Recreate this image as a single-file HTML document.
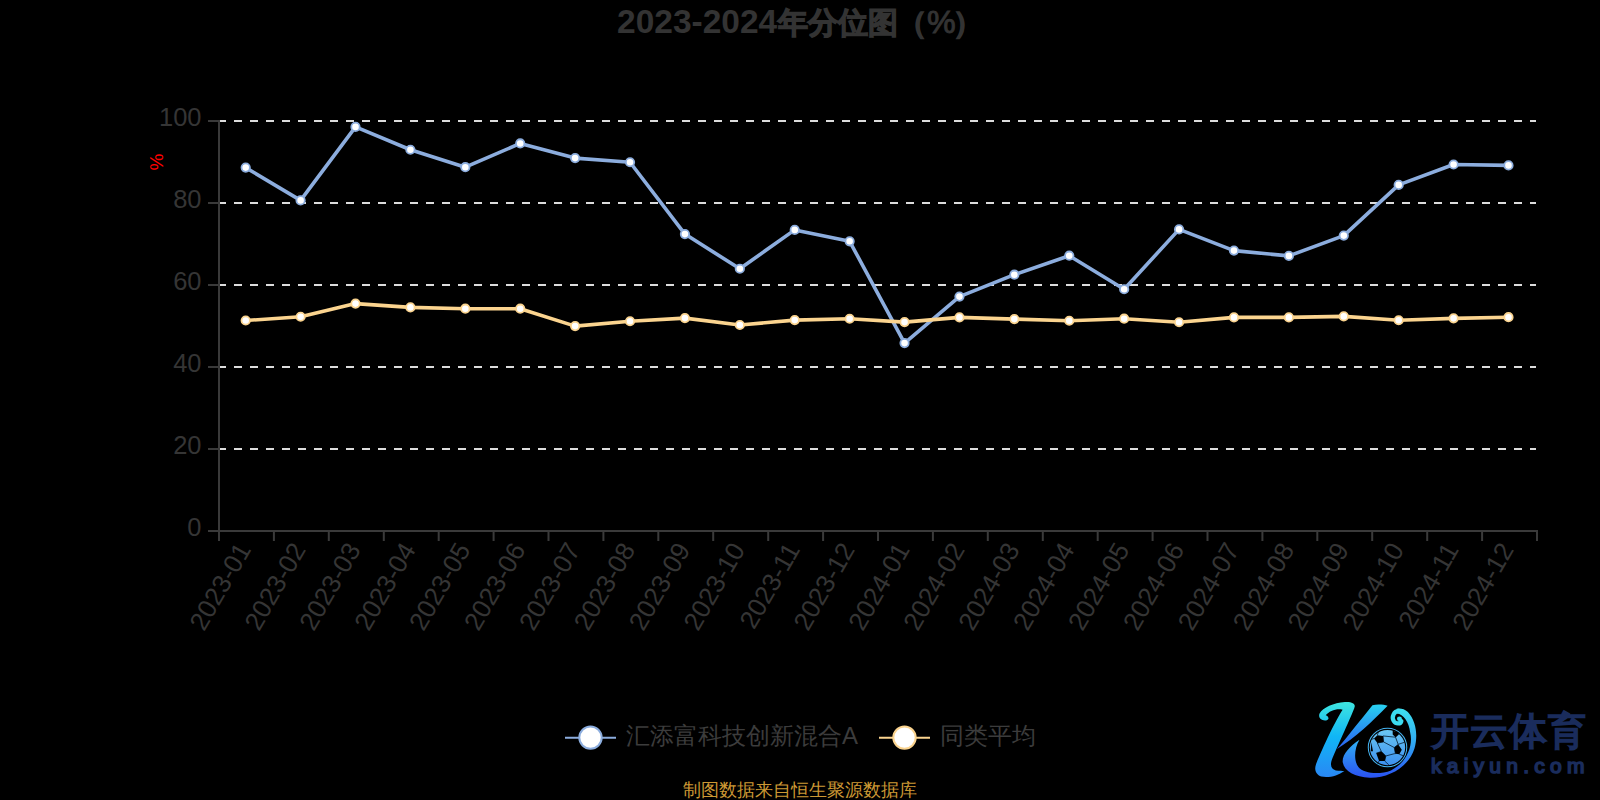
<!DOCTYPE html>
<html><head><meta charset="utf-8"><style>
html,body{margin:0;padding:0;background:#000;width:1600px;height:800px;overflow:hidden;position:relative}
svg text{font-family:"Liberation Sans",sans-serif}
.yl{font-size:25.5px;fill:#353535}
.xl{font-size:26px;fill:#353535}
.yn{font-size:19px;fill:#f00}
.lg{font-size:24px;fill:#3c3c3c}
.src{font-size:18px;fill:#cc9834}
.ky{font-size:38px;fill:#1a2c5c;stroke:#1a2c5c;stroke-width:1.9px;letter-spacing:1px}
.kyu{font-size:21px;fill:#1a2c5c;stroke:#1a2c5c;stroke-width:1.6px;letter-spacing:5.25px}
.title{font-size:33.5px;font-weight:bold;fill:#333}
.tcjk{font-size:30px;stroke:#333;stroke-width:1.2px}
.tpct{font-size:31px;font-weight:normal;stroke:#333;stroke-width:0.9px}
</style></head><body>
<svg width="1600" height="800" style="position:absolute;left:0;top:0">
<line x1="219" y1="449.0" x2="1536" y2="449.0" stroke="#dcdcdc" stroke-width="2" stroke-dasharray="8 8" stroke-dashoffset="1"/><line x1="219" y1="367.0" x2="1536" y2="367.0" stroke="#dcdcdc" stroke-width="2" stroke-dasharray="8 8" stroke-dashoffset="1"/><line x1="219" y1="285.0" x2="1536" y2="285.0" stroke="#dcdcdc" stroke-width="2" stroke-dasharray="8 8" stroke-dashoffset="1"/><line x1="219" y1="203.0" x2="1536" y2="203.0" stroke="#dcdcdc" stroke-width="2" stroke-dasharray="8 8" stroke-dashoffset="1"/><line x1="219" y1="121.0" x2="1536" y2="121.0" stroke="#dcdcdc" stroke-width="2" stroke-dasharray="8 8" stroke-dashoffset="1"/>
<line x1="219" y1="120" x2="219" y2="532" stroke="#3a3a3a" stroke-width="2"/>
<line x1="208" y1="531" x2="1538" y2="531" stroke="#3a3a3a" stroke-width="2"/>
<line x1="208" y1="531.0" x2="219" y2="531.0" stroke="#3a3a3a" stroke-width="2"/><text x="201.5" y="535.5" text-anchor="end" class="yl">0</text><line x1="208" y1="449.0" x2="219" y2="449.0" stroke="#3a3a3a" stroke-width="2"/><text x="201.5" y="453.5" text-anchor="end" class="yl">20</text><line x1="208" y1="367.0" x2="219" y2="367.0" stroke="#3a3a3a" stroke-width="2"/><text x="201.5" y="371.5" text-anchor="end" class="yl">40</text><line x1="208" y1="285.0" x2="219" y2="285.0" stroke="#3a3a3a" stroke-width="2"/><text x="201.5" y="289.5" text-anchor="end" class="yl">60</text><line x1="208" y1="203.0" x2="219" y2="203.0" stroke="#3a3a3a" stroke-width="2"/><text x="201.5" y="207.5" text-anchor="end" class="yl">80</text><line x1="208" y1="121.0" x2="219" y2="121.0" stroke="#3a3a3a" stroke-width="2"/><text x="201.5" y="125.5" text-anchor="end" class="yl">100</text><line x1="219.0" y1="531" x2="219.0" y2="541" stroke="#3a3a3a" stroke-width="2"/><line x1="273.9" y1="531" x2="273.9" y2="541" stroke="#3a3a3a" stroke-width="2"/><line x1="328.8" y1="531" x2="328.8" y2="541" stroke="#3a3a3a" stroke-width="2"/><line x1="383.8" y1="531" x2="383.8" y2="541" stroke="#3a3a3a" stroke-width="2"/><line x1="438.7" y1="531" x2="438.7" y2="541" stroke="#3a3a3a" stroke-width="2"/><line x1="493.6" y1="531" x2="493.6" y2="541" stroke="#3a3a3a" stroke-width="2"/><line x1="548.5" y1="531" x2="548.5" y2="541" stroke="#3a3a3a" stroke-width="2"/><line x1="603.4" y1="531" x2="603.4" y2="541" stroke="#3a3a3a" stroke-width="2"/><line x1="658.3" y1="531" x2="658.3" y2="541" stroke="#3a3a3a" stroke-width="2"/><line x1="713.2" y1="531" x2="713.2" y2="541" stroke="#3a3a3a" stroke-width="2"/><line x1="768.2" y1="531" x2="768.2" y2="541" stroke="#3a3a3a" stroke-width="2"/><line x1="823.1" y1="531" x2="823.1" y2="541" stroke="#3a3a3a" stroke-width="2"/><line x1="878.0" y1="531" x2="878.0" y2="541" stroke="#3a3a3a" stroke-width="2"/><line x1="932.9" y1="531" x2="932.9" y2="541" stroke="#3a3a3a" stroke-width="2"/><line x1="987.8" y1="531" x2="987.8" y2="541" stroke="#3a3a3a" stroke-width="2"/><line x1="1042.8" y1="531" x2="1042.8" y2="541" stroke="#3a3a3a" stroke-width="2"/><line x1="1097.7" y1="531" x2="1097.7" y2="541" stroke="#3a3a3a" stroke-width="2"/><line x1="1152.6" y1="531" x2="1152.6" y2="541" stroke="#3a3a3a" stroke-width="2"/><line x1="1207.5" y1="531" x2="1207.5" y2="541" stroke="#3a3a3a" stroke-width="2"/><line x1="1262.4" y1="531" x2="1262.4" y2="541" stroke="#3a3a3a" stroke-width="2"/><line x1="1317.3" y1="531" x2="1317.3" y2="541" stroke="#3a3a3a" stroke-width="2"/><line x1="1372.2" y1="531" x2="1372.2" y2="541" stroke="#3a3a3a" stroke-width="2"/><line x1="1427.2" y1="531" x2="1427.2" y2="541" stroke="#3a3a3a" stroke-width="2"/><line x1="1482.1" y1="531" x2="1482.1" y2="541" stroke="#3a3a3a" stroke-width="2"/><line x1="1537.0" y1="531" x2="1537.0" y2="541" stroke="#3a3a3a" stroke-width="2"/><text transform="translate(251.7,549.5) rotate(-60)" text-anchor="end" class="xl">2023-01</text><text transform="translate(306.6,549.5) rotate(-60)" text-anchor="end" class="xl">2023-02</text><text transform="translate(361.5,549.5) rotate(-60)" text-anchor="end" class="xl">2023-03</text><text transform="translate(416.4,549.5) rotate(-60)" text-anchor="end" class="xl">2023-04</text><text transform="translate(471.3,549.5) rotate(-60)" text-anchor="end" class="xl">2023-05</text><text transform="translate(526.2,549.5) rotate(-60)" text-anchor="end" class="xl">2023-06</text><text transform="translate(581.1,549.5) rotate(-60)" text-anchor="end" class="xl">2023-07</text><text transform="translate(636.0,549.5) rotate(-60)" text-anchor="end" class="xl">2023-08</text><text transform="translate(690.9,549.5) rotate(-60)" text-anchor="end" class="xl">2023-09</text><text transform="translate(745.8,549.5) rotate(-60)" text-anchor="end" class="xl">2023-10</text><text transform="translate(800.7,549.5) rotate(-60)" text-anchor="end" class="xl">2023-11</text><text transform="translate(855.6,549.5) rotate(-60)" text-anchor="end" class="xl">2023-12</text><text transform="translate(910.5,549.5) rotate(-60)" text-anchor="end" class="xl">2024-01</text><text transform="translate(965.5,549.5) rotate(-60)" text-anchor="end" class="xl">2024-02</text><text transform="translate(1020.4,549.5) rotate(-60)" text-anchor="end" class="xl">2024-03</text><text transform="translate(1075.3,549.5) rotate(-60)" text-anchor="end" class="xl">2024-04</text><text transform="translate(1130.2,549.5) rotate(-60)" text-anchor="end" class="xl">2024-05</text><text transform="translate(1185.1,549.5) rotate(-60)" text-anchor="end" class="xl">2024-06</text><text transform="translate(1240.0,549.5) rotate(-60)" text-anchor="end" class="xl">2024-07</text><text transform="translate(1294.9,549.5) rotate(-60)" text-anchor="end" class="xl">2024-08</text><text transform="translate(1349.8,549.5) rotate(-60)" text-anchor="end" class="xl">2024-09</text><text transform="translate(1404.7,549.5) rotate(-60)" text-anchor="end" class="xl">2024-10</text><text transform="translate(1459.6,549.5) rotate(-60)" text-anchor="end" class="xl">2024-11</text><text transform="translate(1514.5,549.5) rotate(-60)" text-anchor="end" class="xl">2024-12</text>
<text transform="translate(163,162) rotate(-90)" text-anchor="middle" class="yn">%</text>
<polyline points="245.70,167.60 300.60,200.40 355.51,126.90 410.41,149.75 465.32,167.20 520.22,143.45 575.12,158.10 630.03,162.25 684.93,234.10 739.84,268.75 794.74,229.90 849.64,241.30 904.55,343.10 959.45,296.60 1014.36,274.70 1069.26,255.70 1124.16,289.25 1179.07,229.40 1233.97,250.60 1288.88,255.90 1343.78,235.60 1398.68,184.90 1453.59,164.50 1508.49,165.40" fill="none" stroke="#8cadde" stroke-width="3.6" stroke-linejoin="round"/>
<circle cx="245.70" cy="167.60" r="4.2" fill="#fff" stroke="#8cadde" stroke-width="1.8"/><circle cx="300.60" cy="200.40" r="4.2" fill="#fff" stroke="#8cadde" stroke-width="1.8"/><circle cx="355.51" cy="126.90" r="4.2" fill="#fff" stroke="#8cadde" stroke-width="1.8"/><circle cx="410.41" cy="149.75" r="4.2" fill="#fff" stroke="#8cadde" stroke-width="1.8"/><circle cx="465.32" cy="167.20" r="4.2" fill="#fff" stroke="#8cadde" stroke-width="1.8"/><circle cx="520.22" cy="143.45" r="4.2" fill="#fff" stroke="#8cadde" stroke-width="1.8"/><circle cx="575.12" cy="158.10" r="4.2" fill="#fff" stroke="#8cadde" stroke-width="1.8"/><circle cx="630.03" cy="162.25" r="4.2" fill="#fff" stroke="#8cadde" stroke-width="1.8"/><circle cx="684.93" cy="234.10" r="4.2" fill="#fff" stroke="#8cadde" stroke-width="1.8"/><circle cx="739.84" cy="268.75" r="4.2" fill="#fff" stroke="#8cadde" stroke-width="1.8"/><circle cx="794.74" cy="229.90" r="4.2" fill="#fff" stroke="#8cadde" stroke-width="1.8"/><circle cx="849.64" cy="241.30" r="4.2" fill="#fff" stroke="#8cadde" stroke-width="1.8"/><circle cx="904.55" cy="343.10" r="4.2" fill="#fff" stroke="#8cadde" stroke-width="1.8"/><circle cx="959.45" cy="296.60" r="4.2" fill="#fff" stroke="#8cadde" stroke-width="1.8"/><circle cx="1014.36" cy="274.70" r="4.2" fill="#fff" stroke="#8cadde" stroke-width="1.8"/><circle cx="1069.26" cy="255.70" r="4.2" fill="#fff" stroke="#8cadde" stroke-width="1.8"/><circle cx="1124.16" cy="289.25" r="4.2" fill="#fff" stroke="#8cadde" stroke-width="1.8"/><circle cx="1179.07" cy="229.40" r="4.2" fill="#fff" stroke="#8cadde" stroke-width="1.8"/><circle cx="1233.97" cy="250.60" r="4.2" fill="#fff" stroke="#8cadde" stroke-width="1.8"/><circle cx="1288.88" cy="255.90" r="4.2" fill="#fff" stroke="#8cadde" stroke-width="1.8"/><circle cx="1343.78" cy="235.60" r="4.2" fill="#fff" stroke="#8cadde" stroke-width="1.8"/><circle cx="1398.68" cy="184.90" r="4.2" fill="#fff" stroke="#8cadde" stroke-width="1.8"/><circle cx="1453.59" cy="164.50" r="4.2" fill="#fff" stroke="#8cadde" stroke-width="1.8"/><circle cx="1508.49" cy="165.40" r="4.2" fill="#fff" stroke="#8cadde" stroke-width="1.8"/>
<polyline points="245.70,320.50 300.60,316.75 355.51,303.60 410.41,307.40 465.32,308.70 520.22,308.70 575.12,326.10 630.03,321.25 684.93,318.10 739.84,325.00 794.74,320.10 849.64,318.75 904.55,322.10 959.45,317.40 1014.36,319.10 1069.26,320.75 1124.16,318.70 1179.07,322.25 1233.97,317.40 1288.88,317.40 1343.78,316.40 1398.68,320.25 1453.59,318.35 1508.49,317.20" fill="none" stroke="#fbd48f" stroke-width="3.6" stroke-linejoin="round"/>
<circle cx="245.70" cy="320.50" r="4.2" fill="#fff" stroke="#fbd48f" stroke-width="1.8"/><circle cx="300.60" cy="316.75" r="4.2" fill="#fff" stroke="#fbd48f" stroke-width="1.8"/><circle cx="355.51" cy="303.60" r="4.2" fill="#fff" stroke="#fbd48f" stroke-width="1.8"/><circle cx="410.41" cy="307.40" r="4.2" fill="#fff" stroke="#fbd48f" stroke-width="1.8"/><circle cx="465.32" cy="308.70" r="4.2" fill="#fff" stroke="#fbd48f" stroke-width="1.8"/><circle cx="520.22" cy="308.70" r="4.2" fill="#fff" stroke="#fbd48f" stroke-width="1.8"/><circle cx="575.12" cy="326.10" r="4.2" fill="#fff" stroke="#fbd48f" stroke-width="1.8"/><circle cx="630.03" cy="321.25" r="4.2" fill="#fff" stroke="#fbd48f" stroke-width="1.8"/><circle cx="684.93" cy="318.10" r="4.2" fill="#fff" stroke="#fbd48f" stroke-width="1.8"/><circle cx="739.84" cy="325.00" r="4.2" fill="#fff" stroke="#fbd48f" stroke-width="1.8"/><circle cx="794.74" cy="320.10" r="4.2" fill="#fff" stroke="#fbd48f" stroke-width="1.8"/><circle cx="849.64" cy="318.75" r="4.2" fill="#fff" stroke="#fbd48f" stroke-width="1.8"/><circle cx="904.55" cy="322.10" r="4.2" fill="#fff" stroke="#fbd48f" stroke-width="1.8"/><circle cx="959.45" cy="317.40" r="4.2" fill="#fff" stroke="#fbd48f" stroke-width="1.8"/><circle cx="1014.36" cy="319.10" r="4.2" fill="#fff" stroke="#fbd48f" stroke-width="1.8"/><circle cx="1069.26" cy="320.75" r="4.2" fill="#fff" stroke="#fbd48f" stroke-width="1.8"/><circle cx="1124.16" cy="318.70" r="4.2" fill="#fff" stroke="#fbd48f" stroke-width="1.8"/><circle cx="1179.07" cy="322.25" r="4.2" fill="#fff" stroke="#fbd48f" stroke-width="1.8"/><circle cx="1233.97" cy="317.40" r="4.2" fill="#fff" stroke="#fbd48f" stroke-width="1.8"/><circle cx="1288.88" cy="317.40" r="4.2" fill="#fff" stroke="#fbd48f" stroke-width="1.8"/><circle cx="1343.78" cy="316.40" r="4.2" fill="#fff" stroke="#fbd48f" stroke-width="1.8"/><circle cx="1398.68" cy="320.25" r="4.2" fill="#fff" stroke="#fbd48f" stroke-width="1.8"/><circle cx="1453.59" cy="318.35" r="4.2" fill="#fff" stroke="#fbd48f" stroke-width="1.8"/><circle cx="1508.49" cy="317.20" r="4.2" fill="#fff" stroke="#fbd48f" stroke-width="1.8"/>
<g transform="translate(1310,695) scale(0.1125)">
<defs>
<linearGradient id="lg1" x1="0" y1="60" x2="0" y2="740" gradientUnits="userSpaceOnUse"><stop offset="0" stop-color="#3fe6e0"/><stop offset="0.45" stop-color="#10b6f6"/><stop offset="1" stop-color="#2a86f4"/></linearGradient>
<linearGradient id="lg3" x1="0" y1="90" x2="0" y2="480" gradientUnits="userSpaceOnUse"><stop offset="0" stop-color="#28d0f0"/><stop offset="1" stop-color="#2a5ef2"/></linearGradient>
<linearGradient id="lg4" x1="0" y1="120" x2="0" y2="740" gradientUnits="userSpaceOnUse"><stop offset="0" stop-color="#3ee0f0"/><stop offset="0.5" stop-color="#30a8f2"/><stop offset="1" stop-color="#2a50f2"/></linearGradient>
<linearGradient id="lg2" x1="0" y1="300" x2="0" y2="640" gradientUnits="userSpaceOnUse"><stop offset="0" stop-color="#6cc8f2"/><stop offset="1" stop-color="#3a8ef0"/></linearGradient>
</defs>
<path fill="url(#lg1)" d="M150,225 C100,235 70,200 85,165 C115,110 210,70 310,62 C370,58 400,75 398,100 C395,130 300,330 200,560 C175,620 185,660 230,670 C260,675 290,672 305,675 C250,715 170,740 100,725 C50,710 35,660 55,610 C120,450 230,220 290,130 C240,115 170,140 140,180 C165,190 175,215 150,225 Z"/>
<path fill="url(#lg3)" d="M555,90 C600,80 660,85 690,95 C560,230 400,380 240,480 C340,360 450,220 555,90 Z"/>
<path fill="url(#lg4)" d="M440,397 C360,450 290,520 290,590 C300,680 400,730 530,735 C700,740 880,640 930,470 C960,360 945,230 870,150 C840,122 800,115 770,122 L772,165 C830,170 880,240 890,330 C920,450 860,600 720,670 C620,710 480,700 430,640 C390,590 390,480 440,397 Z"/>
<path fill="none" stroke="#3cdcf0" stroke-width="38" stroke-linecap="round" d="M790,142 C745,145 722,195 745,232 C765,262 805,258 812,232"/>
<circle cx="795" cy="212" r="22" fill="#3cdcf0"/>
<circle cx="689" cy="467" r="171" fill="none" stroke="#45b4f2" stroke-width="9"/>
<circle cx="689" cy="467" r="157" fill="url(#lg2)"/>
<g stroke="#021a2e" stroke-width="7" fill="none">
<path d="M599,427 L634,502 L589,517 M634,502 L674,542 L749,522 L759,522 L749,467 L654,417 L599,427 M654,417 L649,364 M749,467 L784,439 L760,375 L649,364 M674,542 L664,587 M794,527 L830,540 M569,387 L545,395 M784,439 L840,420 M599,357 L610,320 M760,375 L790,330 M614,587 L600,610 M664,587 L700,620"/>
</g>
<g fill="#000">
<path d="M569,387 L599,357 L649,364 L654,417 L599,427 Z"/>
<path d="M749,467 L784,439 L816,487 L794,527 L759,522 Z"/>
<path d="M589,517 L634,502 L674,542 L664,587 L614,587 Z"/>
<path d="M735,318 L780,330 L790,350 L760,375 L735,350 Z"/>
<path d="M545,420 L560,500 L540,500 Z"/>
</g>
</g>
<text x="1430.5" y="744" class="ky">开云体育</text>
<text x="1431" y="773" class="kyu">kaiyun.com</text>
<line x1="565" y1="737.8" x2="616" y2="737.8" stroke="#8cadde" stroke-width="2"/>
<circle cx="590.5" cy="737.6" r="11.2" fill="#fff" stroke="#8cadde" stroke-width="2"/>
<text x="626" y="744" class="lg">汇添富科技创新混合A</text>
<line x1="879" y1="737.8" x2="930" y2="737.8" stroke="#fbd48f" stroke-width="2"/>
<circle cx="904.5" cy="737.6" r="11.2" fill="#fff" stroke="#fbd48f" stroke-width="2"/>
<text x="940" y="744" class="lg">同类平均</text>
<text x="800" y="796" text-anchor="middle" class="src">制图数据来自恒生聚源数据库</text>
<text x="617" y="33" class="title">2023-2024</text><text x="778.3" y="33" class="title tcjk">年分位图</text><text x="897.1" y="33" class="title tcjk">（</text><text transform="translate(927,33) scale(1.04,1)" class="title tpct">%</text><text x="953.3" y="33" class="title tcjk">）</text>
</svg>
</body></html>
